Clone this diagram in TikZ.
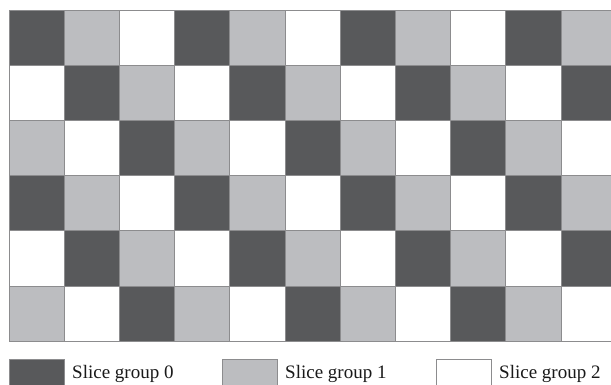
\documentclass[tikz,border=0pt]{standalone}
\usepackage{fontspec}
\setmainfont{Liberation Serif}
\definecolor{gdark}{HTML}{58595B}
\definecolor{glight}{HTML}{BCBDC0}
\definecolor{gline}{HTML}{8C8C8E}
\begin{document}
\begin{tikzpicture}[x=1pt,y=-1pt,
  cell/.style={draw=gline,line width=0.9pt},
  g0/.style={cell,fill=gdark},
  g1/.style={cell,fill=glight},
  g2/.style={cell,fill=white},
  legbox/.style={draw=gline,line width=0.9pt,minimum width=55pt,minimum height=28pt,inner sep=0pt,anchor=north west},
  legtext/.style={anchor=base west,inner sep=0pt,font=\fontsize{19}{22}\selectfont,text=black!90}]
\useasboundingbox (0,0) rectangle (611,385);
\clip (0,0) rectangle (611,385);
\foreach \r in {0,...,5}{
  \foreach \c in {0,...,10}{
    \pgfmathtruncatemacro{\g}{mod(\c-\r+6,3)}
    \ifcase\g
      \draw[g0] ({9+55.2*\c},{10+55.2*\r}) rectangle ++(55.2,55.2);
    \or
      \draw[g1] ({9+55.2*\c},{10+55.2*\r}) rectangle ++(55.2,55.2);
    \else
      \draw[g2] ({9+55.2*\c},{10+55.2*\r}) rectangle ++(55.2,55.2);
    \fi
  }
}
\node[legbox,fill=gdark] (b0) at (9,359) {};
\node[legtext] (t0) at (72,378) {Slice group 0};
\node[legbox,fill=glight] (b1) at (222,359) {};
\node[legtext] (t1) at (285,378) {Slice group 1};
\node[legbox,fill=white] (b2) at (436,359) {};
\node[legtext] (t2) at (499,378) {Slice group 2};
\end{tikzpicture}
\end{document}
